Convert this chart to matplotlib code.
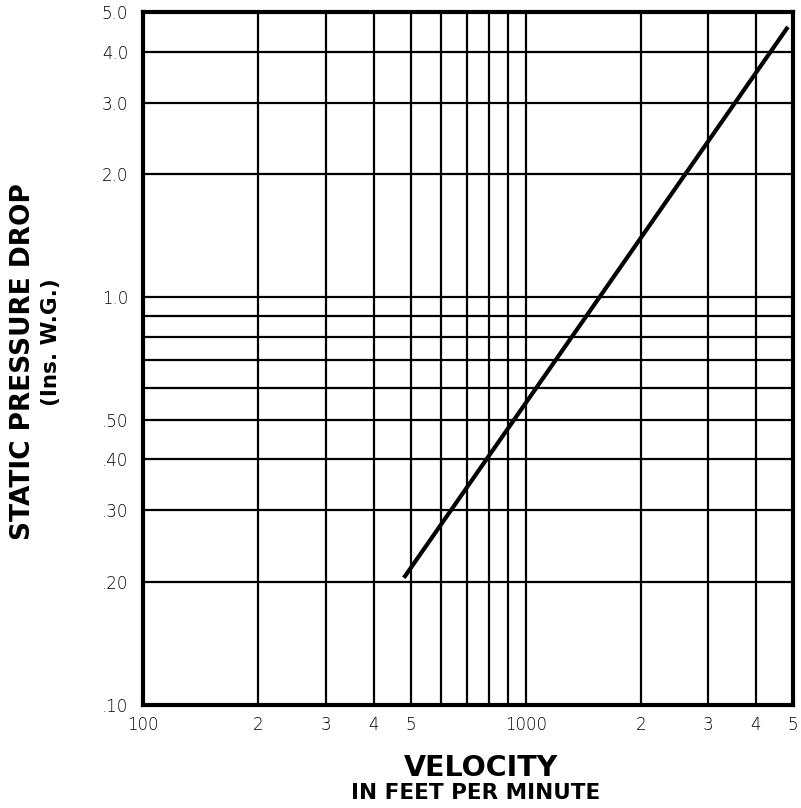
import matplotlib
matplotlib.use("Agg")
import matplotlib.pyplot as plt

# Data
velocity = [480, 4850]
pressure = [0.205, 4.6]

x_grid = [100, 200, 300, 400, 500, 600, 700, 800, 900, 1000, 2000, 3000, 4000, 5000]
x_labels = ["100", "2", "3", "4", "5", "", "", "", "", "1000", "2", "3", "4", "5"]
y_grid = [0.1, 0.2, 0.3, 0.4, 0.5, 0.6, 0.7, 0.8, 0.9, 1.0, 2.0, 3.0, 4.0, 5.0]
y_labels = [".10", ".20", ".30", ".40", ".50", "", "", "", "", "1.0", "2.0", "3.0", "4.0", "5.0"]

fig = plt.figure(figsize=(8.01, 8.08), dpi=100)
ax = fig.add_axes([0.179, 0.1275, 0.811, 0.8575])
ax.set_xscale("log")
ax.set_yscale("log")
ax.set_xlim(100, 5000)
ax.set_ylim(0.1, 5.0)

for xv in x_grid:
    ax.axvline(xv, color="black", lw=1.6, zorder=1)
for yv in y_grid:
    ax.axhline(yv, color="black", lw=1.6, zorder=1)

ax.plot(velocity, pressure, color="black", lw=3, solid_capstyle="butt", zorder=3)

ax.minorticks_off()
ax.set_xticks(x_grid)
ax.set_xticklabels(x_labels)
ax.set_yticks(y_grid)
ax.set_yticklabels(y_labels)
ax.tick_params(axis="both", length=0, labelsize=12, colors="black")
ax.tick_params(axis="x", pad=8)
ax.tick_params(axis="y", pad=11)
for lab in ax.get_xticklabels() + ax.get_yticklabels():
    lab.set_family("DejaVu Sans")
    lab.set_fontweight("light")

for sp in ax.spines.values():
    sp.set_linewidth(3)
    sp.set_color("black")

fig.text(0.600, 0.050, "VELOCITY", ha="center", va="center",
         fontsize=20.5, fontweight="heavy", family="DejaVu Sans")
fig.text(0.594, 0.019, "IN FEET PER MINUTE", ha="center", va="center",
         fontsize=15.5, fontweight="heavy", family="DejaVu Sans")
fig.text(0.029, 0.552, "STATIC PRESSURE DROP", ha="center", va="center",
         rotation=90, fontsize=19, fontweight="heavy", family="DejaVu Sans")
fig.text(0.064, 0.577, "(Ins. W.G.)", ha="center", va="center",
         rotation=90, fontsize=15.5, fontweight="heavy", family="DejaVu Sans")

fig.savefig("out.png", dpi=100, facecolor="white")
